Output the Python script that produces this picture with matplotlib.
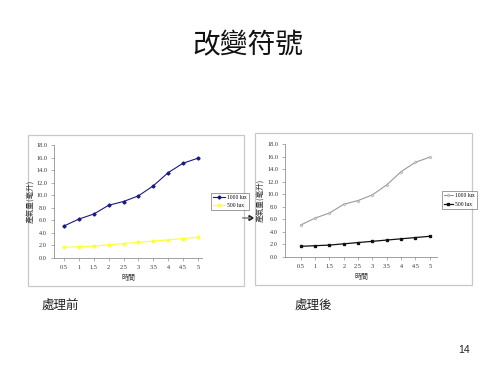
import matplotlib
matplotlib.use("Agg")
import matplotlib.pyplot as plt
from matplotlib.patches import Rectangle, FancyArrow
from matplotlib.lines import Line2D

times = ['0.5', '1', '1.5', '2', '2.5', '3', '3.5', '4', '4.5', '5']
lux1000 = [5.1, 6.2, 7.0, 8.4, 9.0, 9.9, 11.5, 13.6, 15.1, 15.9]
lux500 = [1.7, 1.8, 1.9, 2.1, 2.3, 2.5, 2.7, 2.9, 3.1, 3.3]
series_names = ['1000 lux', '500 lux']
yticks = [0, 2, 4, 6, 8, 10, 12, 14, 16, 18]

W, H = 500, 375
fig = plt.figure(figsize=(5, 3.75), dpi=100)
fig.patch.set_facecolor('white')

def rect(x0, y0, x1, y1):
    return [x0 / W, 1 - y1 / H, (x1 - x0) / W, (y1 - y0) / H]

def fx(x):
    return x / W

def fy(y):
    return 1 - y / H

cjk = ['Noto Sans CJK TC', 'DejaVu Sans']
serif = 'Liberation Serif'

# frames of the two chart pictures
for (x0, y0, x1, y1) in [(28, 135, 244, 286), (255, 133, 472, 285)]:
    fig.patches.append(Rectangle((fx(x0), fy(y1)), (x1 - x0) / W, (y1 - y0) / H,
                                 transform=fig.transFigure, facecolor='none',
                                 edgecolor='#c8c8c8', linewidth=0.9, zorder=-1))

def style_axes(ax, xlim, ylabel_x):
    ax.set_xlim(*xlim)
    ax.set_ylim(0, 18)
    ax.set_yticks(yticks)
    ax.set_yticklabels(['%.1f' % v for v in yticks], fontfamily=serif, fontsize=4.5)
    ax.set_xticks(range(len(times)))
    ax.set_xticklabels(times, fontfamily=serif, fontsize=4.5)
    for s in ['top', 'right']:
        ax.spines[s].set_visible(False)
    for s in ['left', 'bottom']:
        ax.spines[s].set_color('#909090')
        ax.spines[s].set_linewidth(0.6)
    ax.tick_params(axis='both', length=2, width=0.5, color='#909090', pad=3,
                   labelcolor='#333333')
    ax.set_facecolor('none')
    ax.set_ylabel('產氣量(毫升)', fontfamily=cjk, fontsize=5.5, color='#333333')
    ax.yaxis.set_label_coords(ylabel_x, 0.5)
    ax.set_xlabel('時間', fontfamily=cjk, fontsize=5, color='#333333', labelpad=3)

x = list(range(len(times)))

# left chart (before)
ax1 = fig.add_axes(rect(54, 145, 202, 258))
style_axes(ax1, (-0.67, 9.27), -19 / 148)
ax1.plot(x, lux1000, color='#1a1a80', lw=0.8, marker='D', ms=1.6,
         label=series_names[0], clip_on=False)
ax1.plot(x, lux500, color='#ffff33', lw=0.8, marker='D', ms=1.6,
         label=series_names[1], clip_on=False)
leg1 = ax1.legend(loc='center left', bbox_to_anchor=(fx(208), fy(201.5)),
                  bbox_transform=fig.transFigure, prop={'family': serif, 'size': 4},
                  frameon=True, fancybox=False, edgecolor='#555555',
                  handlelength=2.2, borderpad=0.4, labelspacing=0.5, handletextpad=0.4)
leg1.get_frame().set_linewidth(0.5)

# right chart (after)
ax2 = fig.add_axes(rect(285, 144, 437, 257))
style_axes(ax2, (-1.1, 9.5), -20 / 152)
ax2.plot(x, lux1000, color='#9a9a9a', lw=0.8, marker='D', ms=1.5,
         markerfacecolor='#e6e6e6', markeredgecolor='#9a9a9a', markeredgewidth=0.4,
         label=series_names[0], clip_on=False)
ax2.plot(x, lux500, color='#111111', lw=0.9, marker='s', ms=1.6,
         label=series_names[1], clip_on=False)
leg2 = ax2.legend(loc='center left', bbox_to_anchor=(fx(439), fy(200)),
                  bbox_transform=fig.transFigure, prop={'family': serif, 'size': 4},
                  frameon=True, fancybox=False, edgecolor='#555555',
                  handlelength=1.6, borderpad=0.4, labelspacing=0.6, handletextpad=0.3)
leg2.get_frame().set_linewidth(0.5)

# arrow between charts
fig.add_artist(Line2D([fx(243), fx(250)], [fy(218), fy(218)], transform=fig.transFigure,
                      color='#888888', lw=1.2))
fig.patches.append(FancyArrow(fx(249), fy(218), fx(4), 0,
                   width=0.0, head_width=0.013, head_length=fx(4),
                   length_includes_head=True, transform=fig.transFigure,
                   color='#222222'))

# texts
fig.text(fx(248), fy(45), '改變符號', fontfamily=cjk, fontsize=20,
         ha='center', va='center', color='#111111')
fig.text(fx(60), fy(305), '處理前', fontfamily=cjk, fontsize=9,
         ha='center', va='center', color='#222222')
fig.text(fx(313), fy(305), '處理後', fontfamily=cjk, fontsize=9,
         ha='center', va='center', color='#222222')
fig.text(fx(464), fy(350), '14', fontfamily=['Liberation Sans', 'DejaVu Sans'], fontsize=7.5,
         ha='center', va='center', color='#222222')

fig.savefig('out.png', dpi=100, facecolor='white')
